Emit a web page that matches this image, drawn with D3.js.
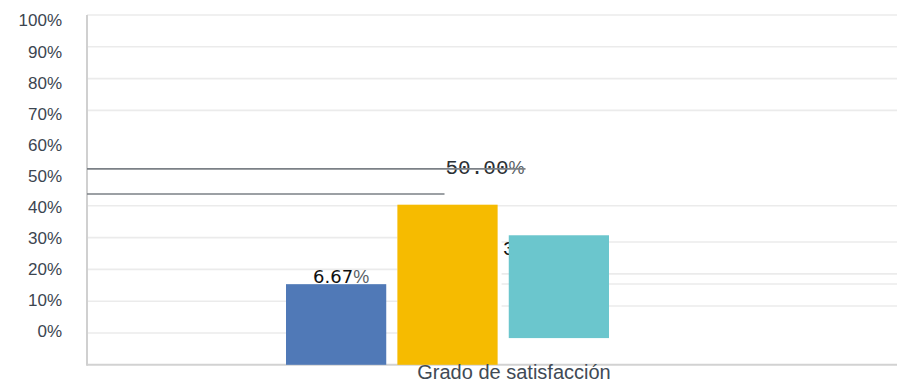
<!DOCTYPE html>
<html>
<head>
<meta charset="utf-8">
<script src="https://cdn.jsdelivr.net/npm/d3@7"></script>
<style>
  body { margin: 0; background: #ffffff; }
  svg { display: block; }
</style>
</head>
<body>
<svg id="chart" width="897" height="384"></svg>
<script>
// ---- data ----
const category = "Grado de satisfacción";
const seriesNames = ["Serie 1", "Serie 2", "Serie 3"];
const seriesValues = [0.0667, 0.5, 0.3333];
const seriesColors = ["#5079b7", "#f6bb00", "#6bc6cd"];
const tickValues = [0, 0.1, 0.2, 0.3, 0.4, 0.5, 0.6, 0.7, 0.8, 0.9, 1];
const fullGridLevels = [1, 0.9, 0.8, 0.7, 0.4];
const leftGridLevels = [0.3, 0.2, 0.1, 0];
const rightGridLevels = [0.286, 0.186, 0.154, 0.085];
const leaderLevels = [0.516, 0.437];
const barBaseLevels = [-0.1, -0.1, -0.016];

// ---- layout ----
const svg = d3.select("#chart");
const plotLeft = 87, plotRight = 897;
const fontSans = "'Liberation Sans', Arial, sans-serif";
const fontMono = "'Liberation Mono', 'DejaVu Sans Mono', monospace";

const y = d3.scaleLinear().domain([0, 1]).range([333, 15]);
const yLabels = d3.scaleLinear().domain([0, 1]).range([331, 20.5]);
const barScale = d3.scaleLinear().domain([0, 0.5]).range([296.4, 204.7]);
const x = d3.scaleBand().domain(seriesNames).range([286, 609]).paddingInner(0.1);

const yellowLeft = x(seriesNames[1]);
const yellowRight = yellowLeft + x.bandwidth();

// gridlines
const grid = svg.append("g").attr("stroke", "#ebebeb").attr("stroke-width", 1.6);
grid.selectAll("line.full").data(fullGridLevels).join("line")
  .attr("class", "full")
  .attr("x1", plotLeft).attr("x2", plotRight)
  .attr("y1", d => y(d)).attr("y2", d => y(d));
grid.selectAll("line.left").data(leftGridLevels).join("line")
  .attr("class", "left")
  .attr("x1", plotLeft).attr("x2", yellowLeft)
  .attr("y1", d => y(d)).attr("y2", d => y(d));
grid.selectAll("line.right").data(rightGridLevels).join("line")
  .attr("class", "right")
  .attr("x1", yellowRight + 4).attr("x2", plotRight)
  .attr("y1", d => y(d)).attr("y2", d => y(d));

// axis lines
svg.append("line")
  .attr("x1", plotLeft).attr("x2", plotRight)
  .attr("y1", y(-0.1)).attr("y2", y(-0.1))
  .attr("stroke", "#d2d2d2").attr("stroke-width", 2);
svg.append("line")
  .attr("x1", plotLeft).attr("x2", plotLeft)
  .attr("y1", y(1)).attr("y2", y(-0.1) + 1)
  .attr("stroke", "#d0d0d0").attr("stroke-width", 2);

// y tick labels
const yAxis = d3.axisLeft(yLabels)
  .tickValues(tickValues)
  .tickFormat(d3.format(".0%"))
  .tickSize(0)
  .tickPadding(0);
const gy = svg.append("g").attr("transform", "translate(62,0)").call(yAxis);
gy.select(".domain").remove();
gy.selectAll("text")
  .attr("font-family", fontSans)
  .attr("font-size", 17)
  .attr("fill", "#3c4550");

// data labels (drawn beneath the bars)
const labels = svg.append("g");
const labelNodes = [];
seriesValues.forEach((v, i) => {
  const bx = x(seriesNames[i]);
  const cx = bx + x.bandwidth() / 2;
  const top = barScale(v);
  const txt = d3.format(".2f")(v * 100);
  let t;
  if (i === 0) {
    t = labels.append("text").attr("x", cx + 5).attr("y", top - 1)
      .attr("text-anchor", "middle");
    t.append("tspan").attr("font-family", "'DejaVu Sans', sans-serif")
      .attr("font-size", 18).attr("fill", "#111").text(txt);
  } else if (i === 1) {
    t = labels.append("text").attr("x", cx - 2).attr("y", y(v));
    t.append("tspan").attr("font-family", fontMono)
      .attr("font-size", 21).attr("fill", "#2b2f33").text(txt);
  } else {
    t = labels.append("text").attr("x", bx - 6).attr("y", top + 20);
    t.append("tspan").attr("font-family", fontMono)
      .attr("font-size", 21).attr("fill", "#111").text(txt);
  }
  t.append("tspan").attr("font-family", fontSans)
    .attr("font-size", 18).attr("fill", "#5a5f66").text("%");
  labelNodes.push(t.node());
});

// leader lines running to the 50 % label
const lb = labelNodes[1].getBBox();
const leaderEnds = [lb.x + lb.width + 1, lb.x - 1];
svg.append("g").selectAll("line").data(leaderLevels).join("line")
  .attr("x1", plotLeft).attr("x2", (d, i) => leaderEnds[i])
  .attr("y1", d => y(d)).attr("y2", d => y(d))
  .attr("stroke", "#7b8086").attr("stroke-width", 1.6);

// bars
svg.append("g").selectAll("rect").data(seriesValues).join("rect")
  .attr("x", (d, i) => x(seriesNames[i]))
  .attr("width", x.bandwidth())
  .attr("y", d => barScale(d))
  .attr("height", (d, i) => y(barBaseLevels[i]) - barScale(d))
  .attr("fill", (d, i) => seriesColors[i]);

// category label
svg.append("text")
  .attr("x", 514).attr("y", 379)
  .attr("text-anchor", "middle")
  .attr("font-family", fontSans)
  .attr("font-size", 20)
  .attr("fill", "#414a55")
  .text(category);
</script>
</body>
</html>
